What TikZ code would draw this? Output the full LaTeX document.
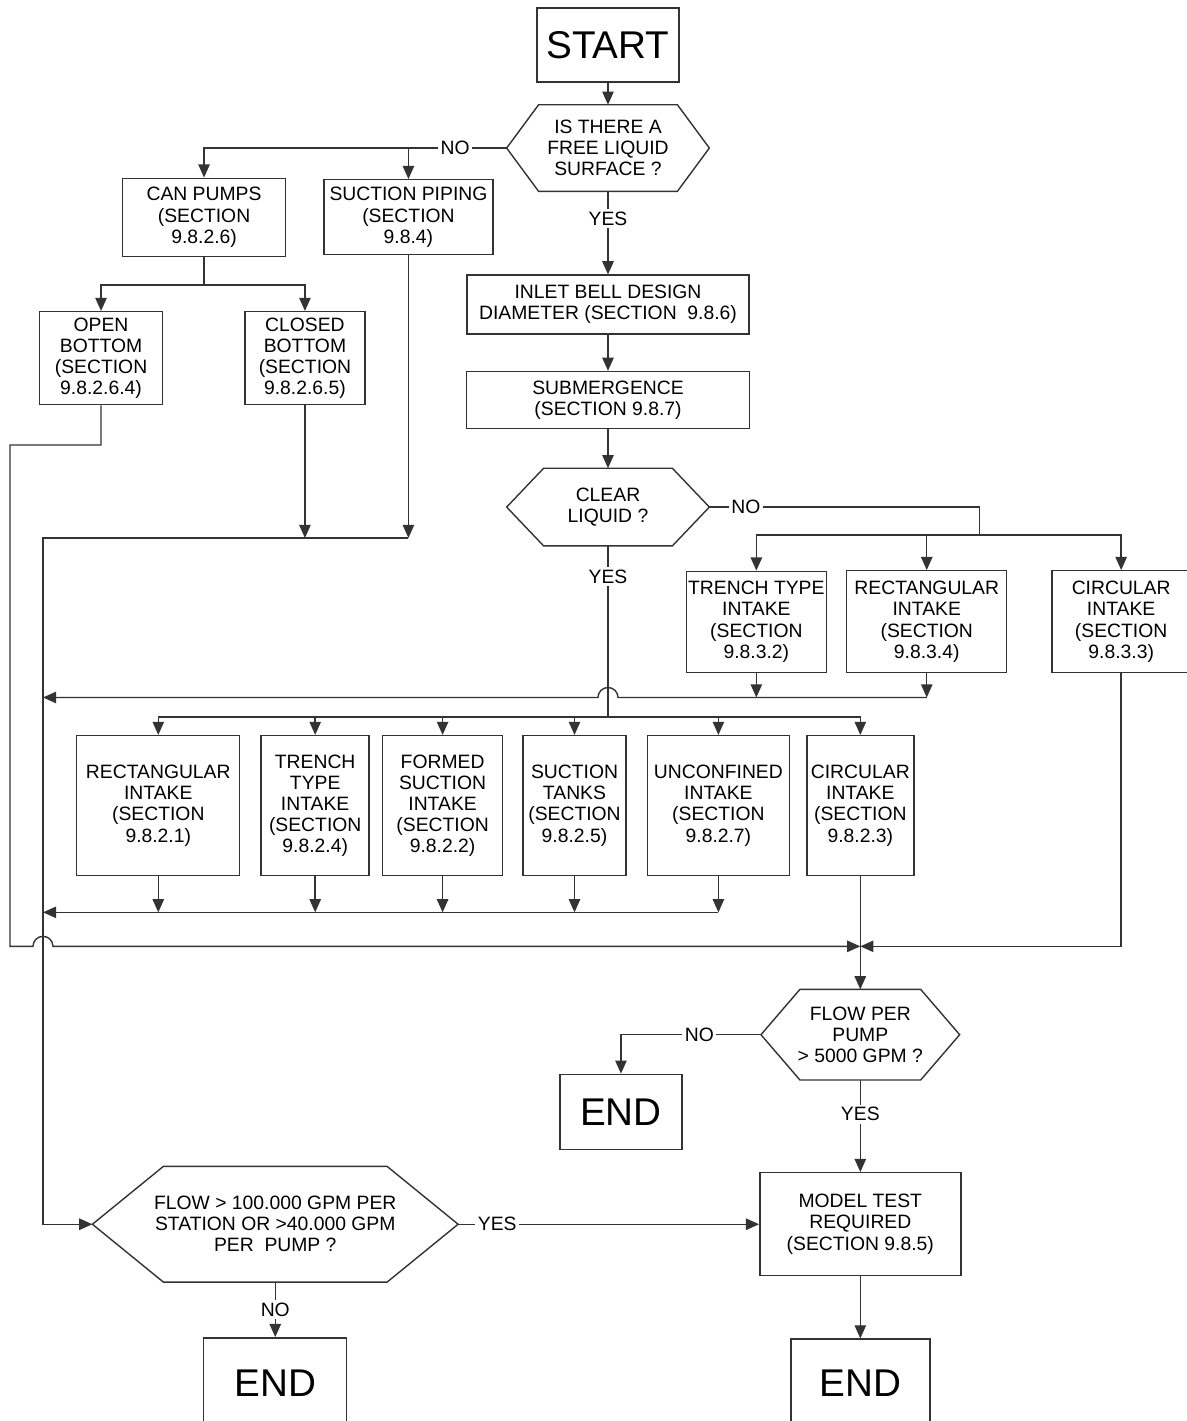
\documentclass[tikz,border=0pt]{standalone}
\usepackage{fontspec}
\setmainfont{Liberation Sans}
\usepackage{tikz}
\usetikzlibrary{arrows.meta, positioning, calc}

\begin{document}
\begin{tikzpicture}[node distance=1cm,
    box/.style={draw=black!80, line width=0.8pt, align=center, inner sep=1pt, font=\fontsize{11}{12}\selectfont},
    big/.style={box, font=\fontsize{22}{24}\selectfont},
    dec/.style={align=center, inner sep=1pt, font=\fontsize{11}{12}\selectfont},
    line/.style={draw=black!80, line width=0.8pt},
    arrow/.style={line, -{Triangle[width=6.5pt,length=7.5pt]}},
    lab/.style={fill=white, inner sep=1.5pt, font=\fontsize{11}{12}\selectfont}]

    \useasboundingbox (0,0) rectangle (23.74,-28.42);

    % Main column
    \node [big, minimum width=2.84cm, minimum height=1.48cm] (start) at (12.16,-0.9) {START};
    \node [dec, minimum width=4.04cm, minimum height=1.72cm, below=0.44cm of start] (qfree) {IS THERE A\\FREE LIQUID\\SURFACE ?};
    \node [box, minimum width=5.64cm, minimum height=1.18cm, below=1.66cm of qfree] (inlet) {INLET BELL DESIGN\\DIAMETER (SECTION~ 9.8.6)};
    \node [box, minimum width=5.66cm, minimum height=1.14cm, below=0.72cm of inlet] (submerg) {SUBMERGENCE\\(SECTION 9.8.7)};
    \node [dec, minimum width=4.04cm, minimum height=1.54cm, below=0.78cm of submerg] (qclear) {CLEAR\\LIQUID ?};

    % No free surface
    \node [box, minimum width=3.38cm, minimum height=1.5cm, below left=0.62cm and 0.26cm of qfree.west] (piping) {SUCTION PIPING\\(SECTION\\9.8.4)};
    \node [box, minimum width=3.26cm, minimum height=1.56cm, left=0.74cm of piping] (canpumps) {CAN PUMPS\\(SECTION\\9.8.2.6)};
    \node [box, minimum width=2.46cm, minimum height=1.86cm, below=1.08cm of canpumps, xshift=-2.06cm] (openb) {OPEN\\BOTTOM\\(SECTION\\9.8.2.6.4)};
    \node [box, minimum width=2.4cm, minimum height=1.86cm, right=1.62cm of openb] (closedb) {CLOSED\\BOTTOM\\(SECTION\\9.8.2.6.5)};

    % Liquid not clear
    \node [box, minimum width=2.8cm, minimum height=2.02cm, below=1.27cm of qclear.east, xshift=0.94cm] (trench2) {TRENCH TYPE\\INTAKE\\(SECTION\\9.8.3.2)};
    \node [box, minimum width=3.2cm, minimum height=2.04cm, right=0.38cm of trench2] (rect2) {RECTANGULAR\\INTAKE\\(SECTION\\9.8.3.4)};
    \node [box, minimum width=2.76cm, minimum height=2.04cm, right=0.88cm of rect2] (circ2) {CIRCULAR\\INTAKE\\(SECTION\\9.8.3.3)};

    % Clear liquid
    \node [box, minimum width=2.06cm, minimum height=2.8cm, below=3.78cm of qclear, xshift=-0.67cm] (tanks) {SUCTION\\TANKS\\(SECTION\\9.8.2.5)};
    \node [box, minimum width=2.4cm, minimum height=2.8cm, left=0.38cm of tanks] (formed) {FORMED\\SUCTION\\INTAKE\\(SECTION\\9.8.2.2)};
    \node [box, minimum width=2.16cm, minimum height=2.8cm, left=0.24cm of formed] (trench1) {TRENCH\\TYPE\\INTAKE\\(SECTION\\9.8.2.4)};
    \node [box, minimum width=3.26cm, minimum height=2.8cm, left=0.4cm of trench1] (rect1) {RECTANGULAR\\INTAKE\\(SECTION\\9.8.2.1)};
    \node [box, minimum width=2.84cm, minimum height=2.8cm, right=0.4cm of tanks] (unconf) {UNCONFINED\\INTAKE\\(SECTION\\9.8.2.7)};
    \node [box, minimum width=2.14cm, minimum height=2.8cm, right=0.32cm of unconf] (circ1) {CIRCULAR\\INTAKE\\(SECTION\\9.8.2.3)};

    % Flow checks
    \node [dec, minimum width=3.96cm, minimum height=1.8cm, below=2.26cm of circ1] (qpump) {FLOW PER\\PUMP\\> 5000 GPM ?};
    \node [big, minimum width=2.44cm, minimum height=1.5cm, below=0.78cm of qpump.west, xshift=-2.8cm] (end1) {END};
    \node [box, minimum width=4.02cm, minimum height=2.06cm, below=1.84cm of qpump] (model) {MODEL TEST\\REQUIRED\\(SECTION 9.8.5)};
    \node [big, minimum width=2.78cm, minimum height=1.76cm, below=1.24cm of model] (end3) {END};
    \node [dec, minimum width=7.3cm, minimum height=2.3cm, left=6.02cm of model] (qflow) {FLOW > 100.000 GPM PER\\STATION OR >40.000 GPM\\PER~ PUMP ?};
    \node [big, minimum width=2.86cm, minimum height=1.82cm, below=1.1cm of qflow] (end2) {END};

    % Decision outlines
    \foreach \d/\c in {qfree/0.64, qclear/0.74, qpump/0.78, qflow/1.42}
      \draw [line] (\d.west) -- ([xshift=\c cm]\d.north west) -- ([xshift=-\c cm]\d.north east)
        -- (\d.east) -- ([xshift=-\c cm]\d.south east) -- ([xshift=\c cm]\d.south west) -- cycle;

    % Junctions
    \coordinate (bus1) at (0.86,-10.76);
    \coordinate (outer) at (0.2,-8.9);
    \coordinate (split1) at ([yshift=-0.56cm]canpumps.south);
    \coordinate (split2) at ([xshift=5.4cm, yshift=-0.56cm]qclear.east);
    \coordinate (split3) at ([yshift=-3.42cm]qclear.south);
    \coordinate (bus2) at ([yshift=-0.48cm]rect2.south);
    \coordinate (bus3) at ([yshift=-0.72cm]unconf.south);
    \coordinate (merge) at ([yshift=-1.4cm]circ1.south);
    \coordinate (hop1) at (bus1 |- merge);
    \coordinate (hop2) at (qclear.south |- bus2);

    % Connectors
    \draw [arrow] (start) -- (qfree);
    \draw [arrow] (qfree) -- node[lab, pos=.33]{YES} (inlet);
    \draw [arrow] (inlet) -- (submerg);
    \draw [arrow] (submerg) -- (qclear);

    \draw [arrow] (qfree.west) -- node[lab, pos=.17]{NO} (canpumps.north |- qfree.west) -- (canpumps.north);
    \draw [arrow] (piping.north |- qfree.west) -- (piping.north);
    \draw [line] (canpumps.south) -- (split1);
    \draw [arrow] (split1) -| (openb.north);
    \draw [arrow] (split1) -| (closedb.north);
    \draw [arrow] (closedb.south) -- (closedb.south |- bus1);
    \draw [arrow] (piping.south) -- (piping.south |- bus1);
    \draw [arrow] (piping.south |- bus1) -- (bus1) |- (qflow.west);
    \draw [arrow] (openb.south) |- (outer) -- (outer |- merge) -- ([xshift=-0.2cm]hop1)
        arc[start angle=180, end angle=0, radius=0.2cm] -- (merge);

    \draw [line] (qclear.east) -- node[lab, pos=.135]{NO} (split2 |- qclear.east) -- (split2);
    \foreach \b in {trench2, rect2, circ2}
      \draw [arrow] (split2) -| (\b.north);
    \draw [arrow] (trench2.south) -- (trench2.south |- bus2);
    \draw [arrow] (rect2.south) -- (bus2);
    \draw [arrow] (bus2) -- ([xshift=0.2cm]hop2) arc[start angle=0, end angle=180, radius=0.2cm] -- (bus1 |- bus2);
    \draw [arrow] (circ2.south) |- (merge);

    \draw [line] (qclear.south) -- node[lab, pos=.18]{YES} (split3);
    \foreach \b in {rect1, trench1, formed, tanks, unconf, circ1}
      \draw [arrow] (split3) -| (\b.north);
    \foreach \b in {rect1, trench1, formed, tanks, unconf}
      \draw [arrow] (\b.south) -- (\b.south |- bus3);
    \draw [arrow] (bus3) -- (bus1 |- bus3);
    \draw [arrow] (circ1.south) -- (qpump.north);

    \draw [arrow] (qpump.west) -- node[lab, pos=.44]{NO} (end1.north |- qpump.west) -- (end1.north);
    \draw [arrow] (qpump) -- node[lab, pos=.37]{YES} (model);
    \draw [arrow] (model) -- (end3);
    \draw [arrow] (qflow.east) -- node[lab, pos=.13]{YES} (model.west);
    \draw [arrow] (qflow) -- node[lab]{NO} (end2);
\end{tikzpicture}
\end{document}
